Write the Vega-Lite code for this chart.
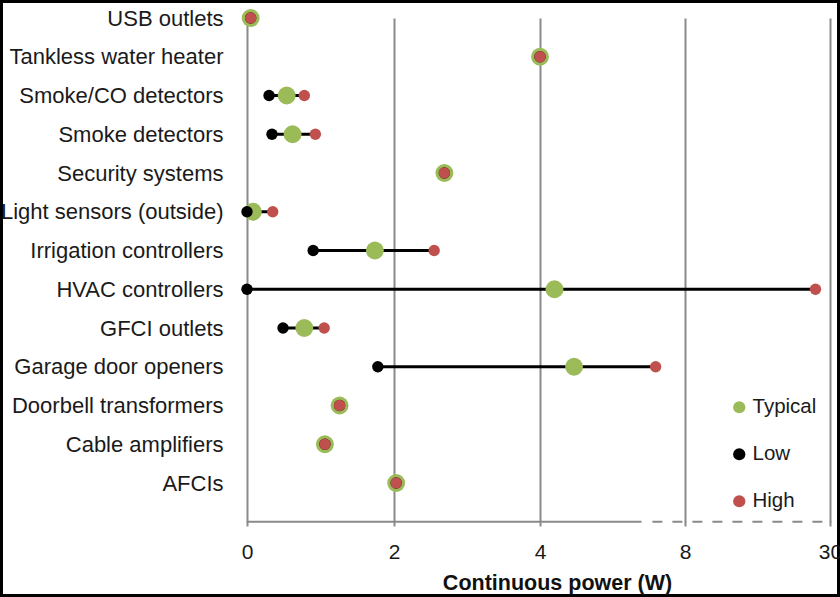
{
  "$schema": "https://vega.github.io/schema/vega-lite/v6.json",
  "width": 840,
  "height": 597,
  "padding": 0,
  "autosize": {"type": "none"},
  "background": "white",
  "config": {
    "view": {"stroke": "#000000", "strokeWidth": 6},
    "font": "Liberation Sans"
  },
  "data": {
    "values": [
      {"device": "USB outlets", "series": "Typical", "value": 0.05},
      {"device": "USB outlets", "series": "Low", "value": 0.05},
      {"device": "USB outlets", "series": "High", "value": 0.05},
      {"device": "Tankless water heater", "series": "Typical", "value": 4.0},
      {"device": "Tankless water heater", "series": "Low", "value": 4.0},
      {"device": "Tankless water heater", "series": "High", "value": 4.0},
      {"device": "Smoke/CO detectors", "series": "Typical", "value": 0.54},
      {"device": "Smoke/CO detectors", "series": "Low", "value": 0.3},
      {"device": "Smoke/CO detectors", "series": "High", "value": 0.78},
      {"device": "Smoke detectors", "series": "Typical", "value": 0.62},
      {"device": "Smoke detectors", "series": "Low", "value": 0.34},
      {"device": "Smoke detectors", "series": "High", "value": 0.93},
      {"device": "Security systems", "series": "Typical", "value": 2.69},
      {"device": "Security systems", "series": "Low", "value": 2.69},
      {"device": "Security systems", "series": "High", "value": 2.69},
      {"device": "Light sensors (outside)", "series": "Typical", "value": 0.08},
      {"device": "Light sensors (outside)", "series": "Low", "value": 0.0},
      {"device": "Light sensors (outside)", "series": "High", "value": 0.35},
      {"device": "Irrigation controllers", "series": "Typical", "value": 1.74},
      {"device": "Irrigation controllers", "series": "Low", "value": 0.9},
      {"device": "Irrigation controllers", "series": "High", "value": 2.55},
      {"device": "HVAC controllers", "series": "Typical", "value": 4.4},
      {"device": "HVAC controllers", "series": "Low", "value": 0.0},
      {"device": "HVAC controllers", "series": "High", "value": 27.8},
      {"device": "GFCI outlets", "series": "Typical", "value": 0.78},
      {"device": "GFCI outlets", "series": "Low", "value": 0.49},
      {"device": "GFCI outlets", "series": "High", "value": 1.05},
      {"device": "Garage door openers", "series": "Typical", "value": 4.94},
      {"device": "Garage door openers", "series": "Low", "value": 1.78},
      {"device": "Garage door openers", "series": "High", "value": 7.19},
      {"device": "Doorbell transformers", "series": "Typical", "value": 1.26},
      {"device": "Doorbell transformers", "series": "Low", "value": 1.26},
      {"device": "Doorbell transformers", "series": "High", "value": 1.26},
      {"device": "Cable amplifiers ", "series": "Typical", "value": 1.06},
      {"device": "Cable amplifiers ", "series": "Low", "value": 1.06},
      {"device": "Cable amplifiers ", "series": "High", "value": 1.06},
      {"device": "AFCIs", "series": "Typical", "value": 2.03},
      {"device": "AFCIs", "series": "Low", "value": 2.03},
      {"device": "AFCIs", "series": "High", "value": 2.03}
    ]
  },
  "resolve": {"axis": {"x": "independent"}},
  "layer": [
    {
      "mark": {"type": "rule", "color": "#000000", "strokeWidth": 3},
      "encoding": {
        "y": {
          "field": "device",
          "type": "nominal",
          "scale": {
            "type": "point",
            "domain": ["USB outlets", "Tankless water heater", "Smoke/CO detectors", "Smoke detectors", "Security systems", "Light sensors (outside)", "Irrigation controllers", "HVAC controllers", "GFCI outlets", "Garage door openers", "Doorbell transformers", "Cable amplifiers ", "AFCIs", " "],
            "range": [18, 521.75],
            "padding": 0
          },
          "axis": {
            "orient": "left",
            "offset": -247,
            "title": null,
            "domain": false,
            "ticks": false,
            "grid": false,
            "labelPadding": 24,
            "labelFontSize": 22,
            "labelColor": "#1a1a1a",
            "labelLimit": 400,
            "labelOverlap": false
          }
        },
        "x": {
          "aggregate": "min",
          "field": "value",
          "type": "quantitative",
          "scale": {
            "type": "linear",
            "domain": [0, 2, 4, 8, 30],
            "range": [247, 394, 540, 685, 830],
            "nice": false,
            "zero": false
          },
          "axis": {
            "orient": "top",
            "values": [0, 2, 4, 8, 30],
            "grid": true,
            "gridColor": "#8a8a8a",
            "gridWidth": 2,
            "domain": false,
            "ticks": false,
            "labels": false,
            "title": null
          }
        },
        "x2": {"aggregate": "max", "field": "value"}
      }
    },
    {
      "data": {"values": [{}]},
      "mark": {"type": "rule", "color": "#8a8a8a", "strokeWidth": 2},
      "encoding": {
        "x": {"datum": 0, "type": "quantitative", "axis": null},
        "x2": {"datum": 6.8},
        "y": {"datum": " ", "type": "nominal"}
      }
    },
    {
      "data": {"values": [{}]},
      "mark": {"type": "rule", "color": "#8a8a8a", "strokeWidth": 2, "strokeDash": [10, 10]},
      "encoding": {
        "x": {"datum": 7.1, "type": "quantitative", "axis": null},
        "x2": {"datum": 30},
        "y": {"datum": " ", "type": "nominal"}
      }
    },
    {
      "transform": [{"filter": "datum.series === 'Typical'"}],
      "mark": {"type": "point", "filled": true, "opacity": 1, "strokeWidth": 0, "size": 320},
      "encoding": {
        "y": {"field": "device", "type": "nominal"},
        "x": {
          "field": "value",
          "type": "quantitative",
          "axis": {
            "orient": "bottom",
            "offset": -76,
            "values": [0, 2, 4, 8, 30],
            "grid": false,
            "domain": false,
            "ticks": true,
            "tickSize": 5,
            "tickColor": "#8a8a8a",
            "tickWidth": 2,
            "labelFlush": false,
            "labelFontSize": 21,
            "labelPadding": 15,
            "labelColor": "#1a1a1a",
            "title": "Continuous power (W)",
            "titleFontSize": 21.5,
            "titleFontWeight": "bold",
            "titleColor": "#111111",
            "titlePadding": 10.5,
            "titleX": 557
          }
        },
        "color": {
          "field": "series",
          "type": "nominal",
          "scale": {"domain": ["Typical", "Low", "High"], "range": ["#9bbb59", "#000000", "#c0504d"]},
          "legend": {
            "orient": "none",
            "legendX": 729,
            "legendY": 397,
            "title": null,
            "padding": 0,
            "labelFontSize": 20.5,
            "labelColor": "#1a1a1a",
            "symbolType": "circle",
            "symbolSize": 150,
            "symbolStrokeWidth": 0,
            "rowPadding": 26,
            "labelOffset": 3
          }
        }
      }
    },
    {
      "transform": [{"filter": "datum.series === 'Low'"}],
      "mark": {"type": "point", "filled": true, "opacity": 1, "strokeWidth": 0, "size": 130},
      "encoding": {
        "y": {"field": "device", "type": "nominal"},
        "x": {"field": "value", "type": "quantitative", "axis": null},
        "color": {"field": "series", "type": "nominal"}
      }
    },
    {
      "transform": [{"filter": "datum.series === 'High'"}],
      "mark": {"type": "point", "filled": true, "opacity": 1, "strokeWidth": 0, "size": 130},
      "encoding": {
        "y": {"field": "device", "type": "nominal"},
        "x": {"field": "value", "type": "quantitative", "axis": null},
        "color": {"field": "series", "type": "nominal"}
      }
    }
  ]
}
